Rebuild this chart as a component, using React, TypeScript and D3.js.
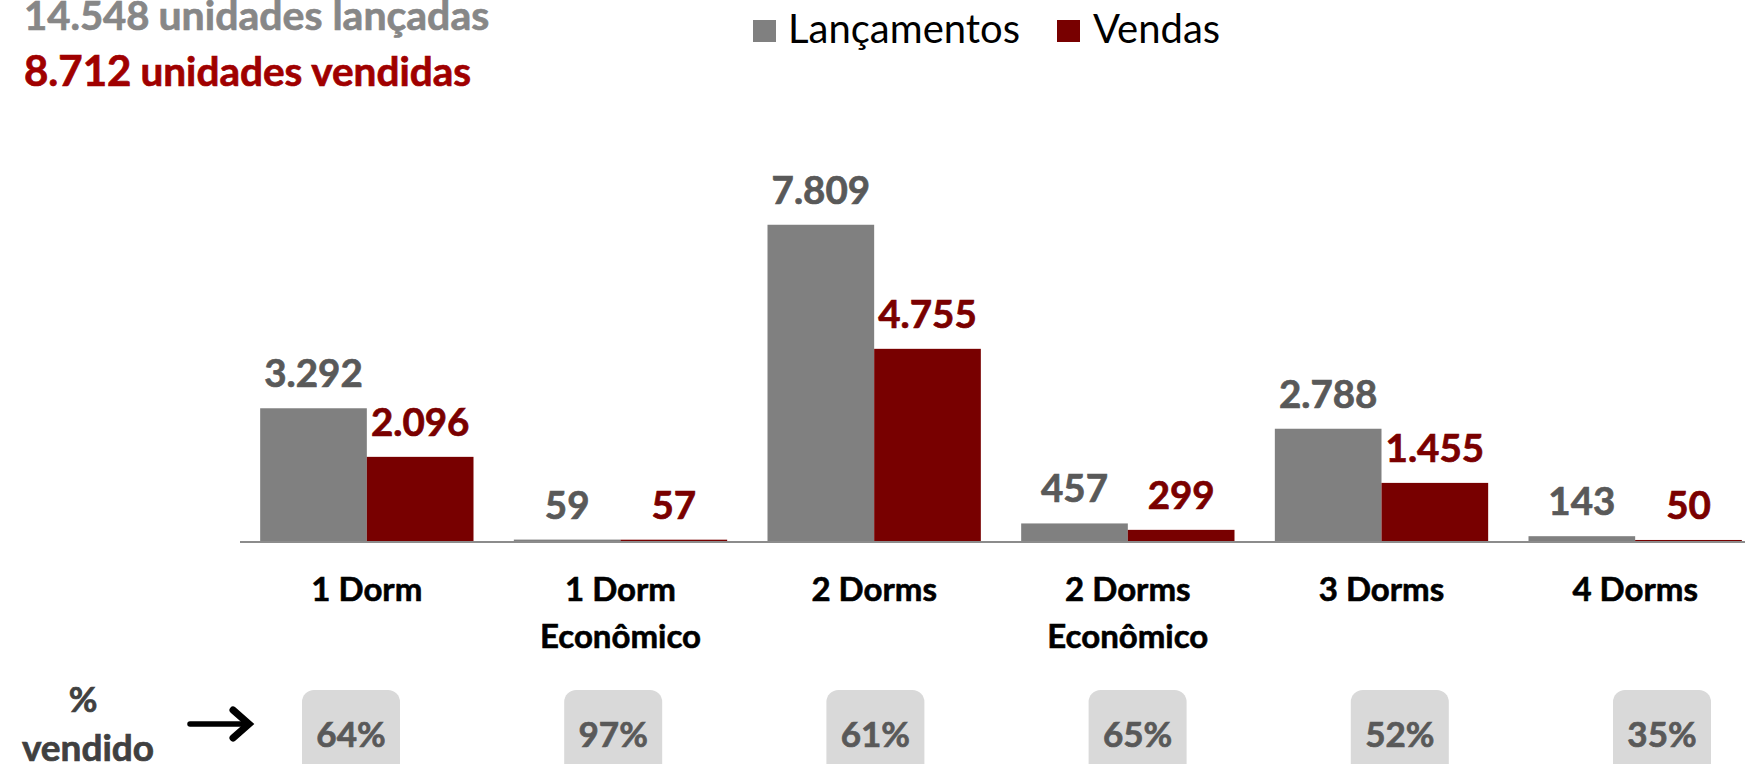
import React from 'react'
import * as d3 from 'd3'

// ------------------------------------------------------------------ //
// data

const categories = ["1 Dorm", "1 Dorm Econômico", "2 Dorms", "2 Dorms Econômico", "3 Dorms", "4 Dorms"]
const lancamentos = [3292, 59, 7809, 457, 2788, 143]
const vendas = [2096, 57, 4755, 299, 1455, 50]
const pctVendido = ["64%", "97%", "61%", "65%", "52%", "35%"]
const series = ["Lançamentos", "Vendas"]
const seriesColors = ["#808080", "#780000"]
const labelColors = ["#595959", "#7a0000"]

const totalLancadas = "14.548"
const totalVendidas = "8.712"

const fmt = (v: number) => v.toLocaleString('de-DE')

const FONT = "Lato, 'Open Sans', sans-serif"

// ------------------------------------------------------------------ //

const width = 1745
const height = 764
const margin = { left: 240, right: -17 }
const baseline = 542

// lato bold is a touch lighter than the original, thicken it a bit
const heavy = (c: string, w = 0.7) => ({ fill: c, stroke: c, strokeWidth: w })

export default function App() {
    const x0 = d3.scaleBand()
        .domain(categories)
        .range([margin.left, width - margin.right])
        .paddingInner(0.159)
        .paddingOuter(0.0795)

    const x1 = d3.scaleBand()
        .domain(series)
        .range([0, x0.bandwidth()])

    const y = d3.scaleLinear()
        .domain([0, 8000])
        .range([baseline, baseline - 325])

    // the % boxes sit on their own slightly wider grid
    const xBox = d3.scalePoint()
        .domain(categories)
        .range([351, 1662])

    const values = [lancamentos, vendas]

    return (
        <svg width={width} height={height} style={{ position: 'absolute', left: 0, top: 0, background: '#fff' }}
            fontFamily={FONT}>
            {/* title */}
            <text x={24} y={30} fontWeight="bold" {...heavy("#878787")}>
                <tspan fontSize={40}>{totalLancadas}</tspan>
                <tspan fontSize={41} dx={9}>unidades lançadas</tspan>
            </text>
            <text x={24} y={86} fontWeight="bold" {...heavy("#a00000")}>
                <tspan fontSize={42}>{totalVendidas}</tspan>
                <tspan fontSize={40.5} dx={9}>unidades vendidas</tspan>
            </text>

            {/* legend */}
            <g>
                <rect x={753} y={20} width={23} height={22} fill={seriesColors[0]} />
                <text x={788} y={43} fontSize={40} fill="#000">{series[0]}</text>
                <rect x={1057} y={20} width={23} height={22} fill={seriesColors[1]} />
                <text x={1093} y={43} fontSize={40} fill="#000">{series[1]}</text>
            </g>

            {/* bars */}
            {categories.map((c, i) => (
                <g key={c} transform={`translate(${x0(c)},0)`}>
                    {series.map((s, j) => {
                        const v = values[j][i]
                        const bx = x1(s) as number
                        return (
                            <g key={s}>
                                <rect x={bx} y={y(v)} width={x1.bandwidth()} height={baseline - y(v)}
                                    fill={seriesColors[j]} />
                                <text x={bx + x1.bandwidth() / 2} y={y(v) - 21} textAnchor="middle"
                                    fontSize={38.5} fontWeight="bold" {...heavy(labelColors[j])}>{fmt(v)}</text>
                            </g>
                        )
                    })}
                </g>
            ))}

            {/* axis line */}
            <line x1={margin.left} x2={width} y1={baseline} y2={baseline} stroke="#8c8c8c" strokeWidth={2} />

            {/* category labels */}
            {categories.map((c) => {
                const lines = c.includes(" Econômico") ? [c.replace(" Econômico", ""), "Econômico"] : [c]
                const cx = (x0(c) as number) + x0.bandwidth() / 2
                return (
                    <text key={c} x={cx} y={601} textAnchor="middle" fontSize={33} fontWeight="bold" {...heavy("#000", 0.6)}>
                        {lines.map((l, k) => (
                            <tspan key={k} x={cx} dy={k === 0 ? 0 : 47}>{l}</tspan>
                        ))}
                    </text>
                )
            })}

            {/* % vendido row */}
            <text x={83} y={712} textAnchor="middle" fontSize={35} fontWeight="bold" {...heavy("#404040")}>%</text>
            <text x={88} y={761} textAnchor="middle" fontSize={37} fontWeight="bold" {...heavy("#404040")}>vendido</text>
            <g stroke="#000" fill="none" strokeLinecap="round" strokeLinejoin="miter">
                <line x1={190} x2={246} y1={724} y2={724} strokeWidth={5.5} />
                <polyline points="233,710 249,724 233,738" strokeWidth={7} />
            </g>
            {categories.map((c, i) => {
                const cx = xBox(c) as number
                return (
                    <g key={c}>
                        <rect x={cx - 49} y={690} width={98} height={90} rx={12} fill="#d9d9d9" />
                        <text x={cx} y={747} textAnchor="middle" fontSize={35} fontWeight="bold" {...heavy("#595959")}>
                            {pctVendido[i]}
                        </text>
                    </g>
                )
            })}
        </svg>
    )
}
